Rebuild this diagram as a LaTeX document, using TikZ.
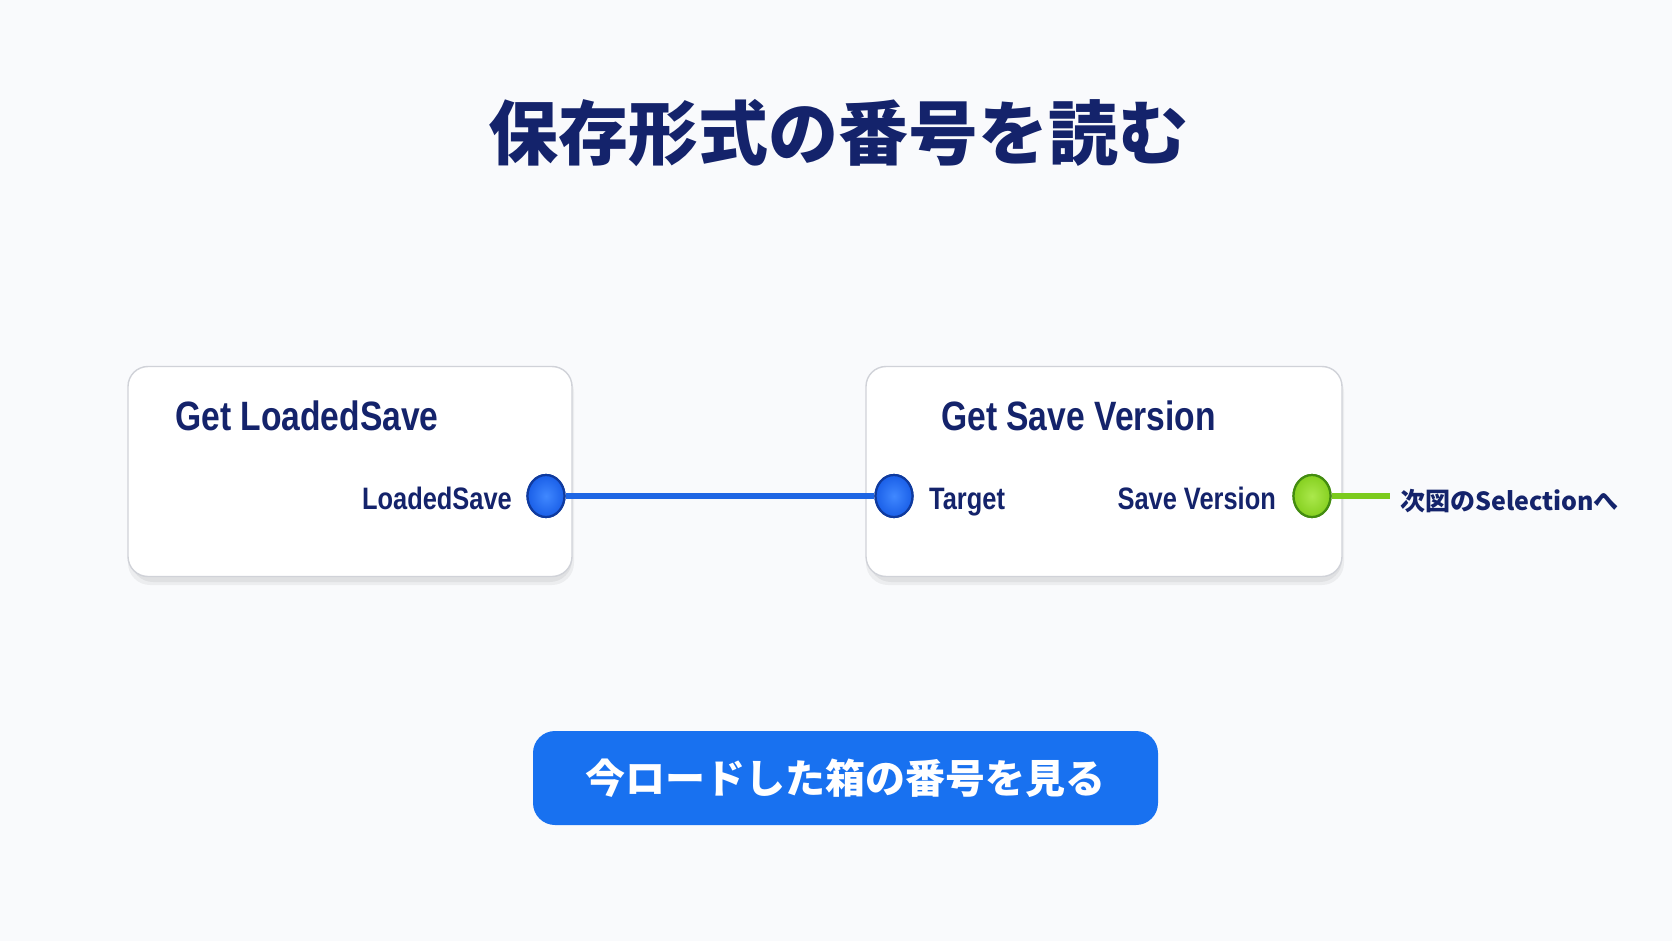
\documentclass[tikz,border=0pt]{standalone}
\usepackage{fontspec}
\usetikzlibrary{shapes.geometric}
\newfontfamily\cjk{Noto Sans CJK JP}
\newfontfamily\lat{Liberation Sans}[FakeStretch=0.82]
\definecolor{navy}{HTML}{14236B}
\definecolor{bgc}{HTML}{F9FAFC}
\definecolor{boxline}{HTML}{D0D2D8}
\definecolor{wireblue}{HTML}{1E66E4}
\definecolor{portblue}{HTML}{1A5FE8}
\definecolor{portblueL}{HTML}{4088FF}
\definecolor{portblueD}{HTML}{0F3A9E}
\definecolor{wiregreen}{HTML}{7CCB1E}
\definecolor{portgreen}{HTML}{86D020}
\definecolor{portgreenL}{HTML}{ABE84C}
\definecolor{portgreenD}{HTML}{438C10}
\definecolor{btnblue}{HTML}{1871F0}
\tikzset{
  nodebox/.style={draw=boxline, line width=1.4pt, fill=white, rounded corners=20pt, minimum width=#1, minimum height=210pt, inner sep=0pt},
  headtext/.style={font=\lat\bfseries\fontsize{41}{41}\selectfont, text=navy, inner sep=0pt},
  porttext/.style={font=\lat\bfseries\fontsize{31}{31}\selectfont, text=navy, inner sep=0pt},
  bport/.style={ellipse, draw=portblueD, line width=2.2pt, inner color=portblueL, outer color=portblue, minimum width=37pt, minimum height=42pt, inner sep=0pt},
  gport/.style={ellipse, draw=portgreenD, line width=2.2pt, inner color=portgreenL, outer color=portgreen, minimum width=37pt, minimum height=42pt, inner sep=0pt},
  boxshadow/.style={fill=black, opacity=0.05, rounded corners=22pt}
}
\begin{document}
\begin{tikzpicture}[x=1pt,y=-1pt]
\fill[bgc] (0,0) rectangle (1672,941);
\useasboundingbox (0,0) rectangle (1672,941);
% title
\node[anchor=base, inner sep=0pt, text=navy, font=\cjk\bfseries\fontsize{70}{70}\selectfont] (title) at (838,160) {保存形式の番号を読む};
% shadows
\fill[boxshadow] (128,370) rectangle (574,585);
\fill[boxshadow] (131,374) rectangle (572,582);
\fill[boxshadow] (866,370) rectangle (1344,585);
\fill[boxshadow] (869,374) rectangle (1342,582);
% boxes
\node[nodebox=444pt] (box1) at (350,471.5) {};
\node[nodebox=476pt] (box2) at (1104,471.5) {};
% headers
\node[headtext, anchor=base west] (h1) at (175,430) {Get LoadedSave};
\node[headtext, anchor=base west] (h2) at (941,430) {Get Save Version};
% ports
\node[bport] (p1) at (546,496) {};
\node[bport] (p2) at (894,496) {};
\node[gport] (p3) at (1312,496) {};
\coordinate (gend) at (1390,496);
% wires
\draw[wireblue, line width=6.5pt] (p1.east) -- (p2.west);
\draw[wiregreen, line width=6pt] (p3.east) -- (gend);
% redraw ports over wires
\node[bport] at (546,496) {};
\node[bport] at (894,496) {};
\node[gport] at (1312,496) {};
% port labels
\node[porttext, anchor=base east] (l1) at (512,509) {LoadedSave};
\node[porttext, anchor=base west] (l2) at (929,509) {Target};
\node[porttext, anchor=base east] (l3) at (1276,509) {Save Version};
\node[anchor=base west, inner sep=0pt, text=navy, font=\cjk\bfseries\fontsize{25}{25}\selectfont] (next) at (1400,510) {次図のSelectionへ};
% button
\node[fill=btnblue, rounded corners=22pt, minimum width=625pt, minimum height=94pt, inner sep=0pt] (btn) at (845.5,778) {};
\node[anchor=base, inner sep=0pt, text=white, font=\cjk\bfseries\fontsize{40}{40}\selectfont] (btntext) at (btn.center) [yshift=-15pt] {今ロードした箱の番号を見る};
\end{tikzpicture}
\end{document}
